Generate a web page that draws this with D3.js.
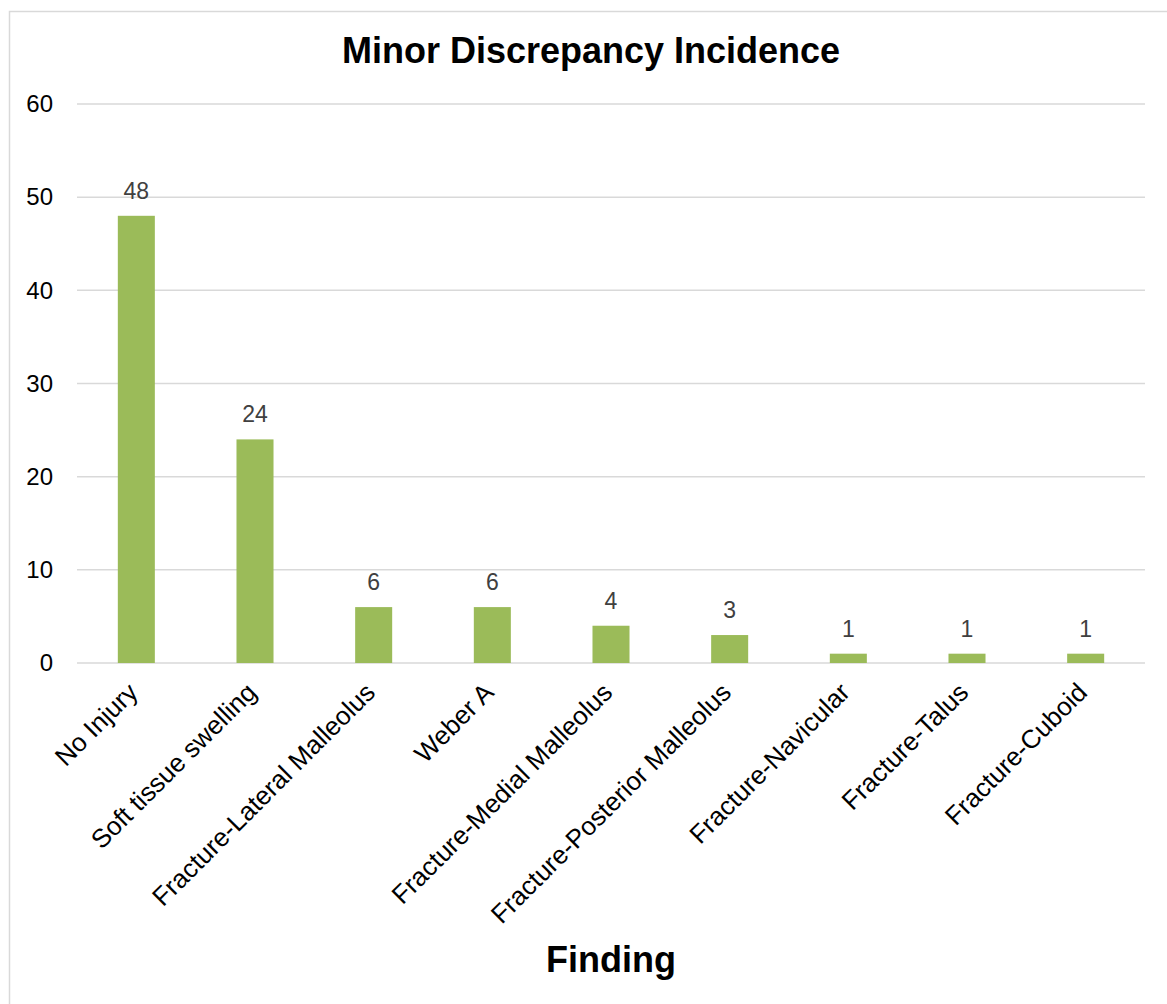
<!DOCTYPE html>
<html>
<head>
<meta charset="utf-8">
<script src="https://cdn.jsdelivr.net/npm/d3@7"></script>
<style>
  html, body { margin: 0; padding: 0; background: #fff; }
  svg { display: block; }
  text { font-family: "Liberation Sans", Arial, sans-serif; }
</style>
</head>
<body>
<svg id="chart" width="1167" height="1004"></svg>
<script>
const categories = ["No Injury", "Soft tissue swelling", "Fracture-Lateral Malleolus", "Weber A",
  "Fracture-Medial Malleolus", "Fracture-Posterior Malleolus", "Fracture-Navicular",
  "Fracture-Talus", "Fracture-Cuboid"];
const values = [48, 24, 6, 6, 4, 3, 1, 1, 1];
const yTicks = [0, 10, 20, 30, 40, 50, 60];
const titleText = "Minor Discrepancy Incidence";
const xAxisTitle = "Finding";

const svg = d3.select("#chart");
const W = 1167, H = 1004;
const plot = { left: 77, right: 1145, top: 104, bottom: 663 };

// outer border
svg.append("rect")
  .attr("x", 9.5).attr("y", 11.5)
  .attr("width", W + 10).attr("height", H + 10)
  .attr("fill", "#fff").attr("stroke", "#d9d9d9").attr("stroke-width", 1.5);

const x = d3.scaleBand().domain(categories).range([plot.left, plot.right]).paddingInner(0).paddingOuter(0);
const y = d3.scaleLinear().domain([0, 60]).range([plot.bottom, plot.top]);
const barW = x.bandwidth() * 0.312;

// gridlines
svg.append("g").selectAll("line").data(yTicks).join("line")
  .attr("x1", plot.left).attr("x2", plot.right)
  .attr("y1", d => y(d)).attr("y2", d => y(d))
  .attr("stroke", "#d9d9d9").attr("stroke-width", 1.5);

// y axis labels
const yAxis = d3.axisLeft(y).tickValues(yTicks).tickSize(0).tickPadding(0);
const gy = svg.append("g").attr("transform", `translate(53,0)`).call(yAxis);
gy.select(".domain").remove();
gy.selectAll("text")
  .attr("font-size", 24).attr("fill", "#000")
  .style("font-family", "'Liberation Sans', Arial, sans-serif");

// bars
svg.append("g").selectAll("rect").data(values).join("rect")
  .attr("x", (d, i) => x(categories[i]) + x.bandwidth() / 2 - barW / 2)
  .attr("width", barW)
  .attr("y", d => y(d))
  .attr("height", d => y(0) - y(d))
  .attr("fill", "#9bbb59");

// data labels
svg.append("g").selectAll("text").data(values).join("text")
  .attr("x", (d, i) => x(categories[i]) + x.bandwidth() / 2)
  .attr("y", d => y(d) - 17)
  .attr("text-anchor", "middle")
  .attr("font-size", 23)
  .attr("fill", "#404040")
  .text(d => d);

// x axis category labels
const xAxis = d3.axisBottom(x).tickSize(0).tickPadding(0);
const gx = svg.append("g").attr("transform", `translate(0,${plot.bottom})`).call(xAxis);
gx.select(".domain").remove();
gx.selectAll("text")
  .attr("font-size", 26).attr("fill", "#000")
  .style("font-family", "'Liberation Sans', Arial, sans-serif")
  .attr("text-anchor", "end")
  .attr("x", 0).attr("y", 0).attr("dy", "0")
  .attr("transform", "translate(3,31) rotate(-45)");

// title
svg.append("text")
  .attr("x", 591).attr("y", 63)
  .attr("text-anchor", "middle")
  .attr("font-size", 36).attr("font-weight", "bold").attr("fill", "#000")
  .text(titleText);

// x axis title
svg.append("text")
  .attr("x", 611).attr("y", 972)
  .attr("text-anchor", "middle")
  .attr("font-size", 36).attr("font-weight", "bold").attr("fill", "#000")
  .text(xAxisTitle);
</script>
</body>
</html>
